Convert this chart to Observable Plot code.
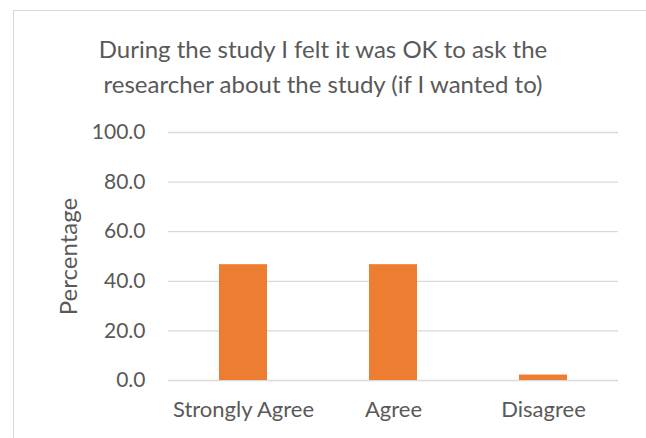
<!DOCTYPE html>
<html>
<head>
<meta charset="utf-8">
<script src="https://cdn.jsdelivr.net/npm/d3@7"></script>
<script src="https://cdn.jsdelivr.net/npm/@observablehq/plot@0.6"></script>
<style>
  html, body { margin: 0; padding: 0; background: #fff; overflow: hidden; }
  #wrap { position: relative; width: 646px; height: 438px; font-family: Lato, "Open Sans", sans-serif; color: #595959; }
  #frame { position: absolute; left: 13px; top: 10px; width: 660px; height: 460px; border: 1px solid #d9d9d9; box-sizing: border-box; }
  #title { position: absolute; left: 0; top: 0; width: 646px; height: 115px; text-align: center; font-size: 24px; line-height: 35px; padding-top: 31px; box-sizing: border-box; color: #595959; }
  #plot { position: absolute; left: 0; top: 115px; }
  #plot svg text { fill: #595959; }
  #plot g[aria-label="y-axis tick label"] text { font-size: 21px; }
  #plot g[aria-label="x-axis tick label"] text { font-size: 22px; }
  #plot g[aria-label="y-axis label"] text { font-size: 24px; }
</style>
</head>
<body>
<div id="wrap">
  <div id="frame"></div>
  <div id="title">During the study I felt it was OK to ask the<br>researcher about the study (if I wanted to)</div>
  <div id="plot"></div>
</div>
<script>
const categories = ["Strongly Agree", "Agree", "Disagree"];
const values = [46.7, 46.7, 2.2];
const yTicks = [0, 20, 40, 60, 80, 100];

const data = categories.map((c, i) => ({category: c, value: values[i]}));

const chart = Plot.plot({
  width: 646,
  height: 323,
  marginLeft: 168,
  marginRight: 28,
  marginTop: 17,
  marginBottom: 58,
  style: {fontFamily: "Lato, 'Open Sans', sans-serif", fontSize: "18px", color: "#595959", background: "transparent", overflow: "visible"},
  x: {domain: categories, paddingInner: 0.68, paddingOuter: 0.34, label: null},
  y: {domain: [0, 100], ticks: yTicks, label: null},
  marks: [
    Plot.gridY(yTicks, {stroke: "#d9d9d9", strokeOpacity: 1, strokeWidth: 1.3}),
    Plot.barY(data, {x: "category", y: "value", fill: "#ED7D31"}),
    Plot.axisY(yTicks, {tickSize: 0, tickPadding: 23, tickFormat: d => d.toFixed(1), label: "Percentage", labelAnchor: "center", labelArrow: "none", labelOffset: 109}),
    Plot.axisX({tickSize: 0, tickPadding: 21, label: null})
  ]
});
document.getElementById("plot").appendChild(chart);
</script>
</body>
</html>
